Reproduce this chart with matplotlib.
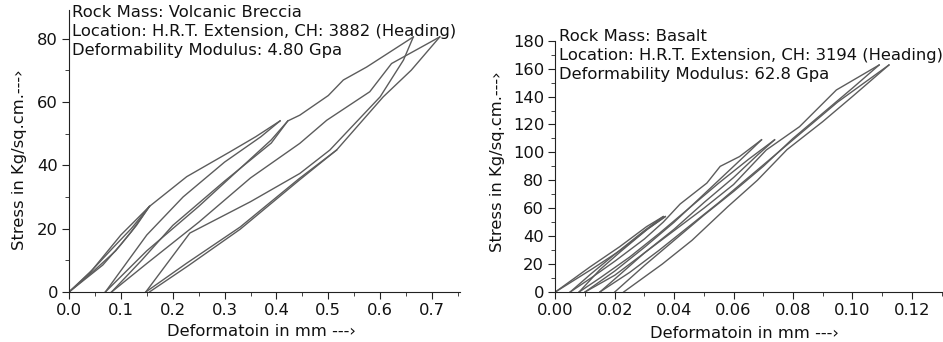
import matplotlib
matplotlib.use("Agg")
import matplotlib.pyplot as plt
from matplotlib.ticker import MultipleLocator

plt.rcParams['font.family'] = ['DejaVu Sans']

# ---- left chart: Volcanic Breccia (deformation in mm, stress in Kg/sq.cm.)
vb_load1_x = [0.0, 0.065, 0.10, 0.13, 0.155]
vb_load1_y = [0, 8.5, 15, 21, 27]
vb_unload1_x = [0.155, 0.10, 0.075, 0.04, 0.0]
vb_unload1_y = [27, 18, 13, 6, 0]
vb_load1b_x = [0.0, 0.05, 0.09, 0.12, 0.155]
vb_load1b_y = [0, 7, 13, 19, 27]
vb_load2_x = [0.0, 0.045, 0.085, 0.12, 0.155, 0.227, 0.31, 0.36, 0.407]
vb_load2_y = [0, 7, 14, 20, 27, 36.4, 44.2, 49, 54]
vb_unload2_x = [0.407, 0.37, 0.30, 0.22, 0.15, 0.07]
vb_unload2_y = [54, 49, 41, 30, 18, 0]
vb_load3_x = [0.07, 0.15, 0.25, 0.33, 0.39, 0.422, 0.445, 0.50, 0.529, 0.574, 0.664]
vb_load3_y = [0, 13, 27, 39, 48, 54, 55.8, 62, 66.9, 71, 80.5]
vb_unload2b_x = [0.422, 0.39, 0.30, 0.20, 0.14, 0.082]
vb_unload2b_y = [54, 47, 35, 21, 10, 0]
vb_load3b_x = [0.082, 0.15, 0.25, 0.35, 0.445, 0.497, 0.58, 0.622, 0.715]
vb_load3b_y = [0, 9, 22, 36, 46.9, 54.2, 63.2, 72.1, 80.5]
vb_unload3_x = [0.664, 0.645, 0.60, 0.503, 0.445, 0.35, 0.233, 0.148]
vb_unload3_y = [80.5, 73.2, 61.6, 44.8, 37.4, 28.5, 18.6, 0]
vb_unload3b_x = [0.715, 0.66, 0.606, 0.516, 0.444, 0.33, 0.227, 0.148]
vb_unload3b_y = [80.5, 70, 61.6, 44.8, 35.8, 20.5, 9.1, 0]
vb_load4_x = [0.155, 0.23, 0.33, 0.444, 0.516]
vb_load4_y = [0, 8.3, 19.8, 35.3, 44.8]

# ---- right chart: Basalt
ba_load1_x = [0.0, 0.0117, 0.0217, 0.0307, 0.0363]
ba_load1_y = [0, 18, 32.5, 46.8, 54]
ba_load1b_x = [0.0, 0.012, 0.022, 0.031, 0.037]
ba_load1b_y = [0, 16, 30, 45, 54]
ba_unload1_x = [0.0363, 0.030, 0.020, 0.012, 0.005]
ba_unload1_y = [54, 44, 27, 13, 0]
ba_unload1b_x = [0.037, 0.031, 0.022, 0.015, 0.008]
ba_unload1b_y = [54, 45, 29, 16, 0]
ba_load2_x = [0.005, 0.012, 0.020, 0.030, 0.0363, 0.042, 0.051, 0.0555, 0.062, 0.0694]
ba_load2_y = [0, 10, 22, 38, 50, 63, 78, 90, 97, 109]
ba_unload2_x = [0.0694, 0.065, 0.058, 0.050, 0.040, 0.030, 0.020, 0.010]
ba_unload2_y = [109, 100, 86, 70, 50, 32, 15, 0]
ba_load2b_x = [0.008, 0.015, 0.025, 0.035, 0.045, 0.055, 0.065, 0.0738]
ba_load2b_y = [0, 10, 25, 42, 60, 78, 95, 109]
ba_unload2b_x = [0.0738, 0.068, 0.060, 0.050, 0.040, 0.030, 0.022, 0.015]
ba_unload2b_y = [109, 98, 82, 64, 45, 28, 13, 0]
ba_load3_x = [0.010, 0.020, 0.030, 0.040, 0.050, 0.060, 0.071, 0.0822, 0.0946, 0.109]
ba_load3_y = [0, 12, 28, 44, 60, 77, 101.7, 118.4, 144.7, 162.6]
ba_unload3_x = [0.109, 0.100, 0.090, 0.080, 0.070, 0.060, 0.050, 0.040, 0.030, 0.020]
ba_unload3_y = [162.6, 146, 128, 110, 90, 72, 55, 37, 19, 0]
ba_load3b_x = [0.015, 0.025, 0.035, 0.045, 0.055, 0.065, 0.075, 0.085, 0.095, 0.1123]
ba_load3b_y = [0, 14, 30, 47, 64, 82, 100, 118, 136, 162.6]
ba_unload3b_x = [0.1123, 0.100, 0.090, 0.078, 0.068, 0.058, 0.046, 0.036, 0.023]
ba_unload3b_y = [162.6, 140, 122, 102, 80, 61, 37, 20, 0]

left_curves = [
    (vb_load1_x, vb_load1_y), (vb_unload1_x, vb_unload1_y), (vb_load1b_x, vb_load1b_y),
    (vb_load2_x, vb_load2_y), (vb_unload2_x, vb_unload2_y), (vb_load3_x, vb_load3_y),
    (vb_unload2b_x, vb_unload2b_y), (vb_load3b_x, vb_load3b_y),
    (vb_unload3_x, vb_unload3_y), (vb_unload3b_x, vb_unload3b_y), (vb_load4_x, vb_load4_y),
]
right_curves = [
    (ba_load1_x, ba_load1_y), (ba_load1b_x, ba_load1b_y),
    (ba_unload1_x, ba_unload1_y), (ba_unload1b_x, ba_unload1b_y),
    (ba_load2_x, ba_load2_y), (ba_unload2_x, ba_unload2_y),
    (ba_load2b_x, ba_load2b_y), (ba_unload2b_x, ba_unload2b_y),
    (ba_load3_x, ba_load3_y), (ba_unload3_x, ba_unload3_y),
    (ba_load3b_x, ba_load3b_y), (ba_unload3b_x, ba_unload3b_y),
]

left_text = ["Rock Mass: Volcanic Breccia",
             "Location: H.R.T. Extension, CH: 3882 (Heading)",
             "Deformability Modulus: 4.80 Gpa"]
right_text = ["Rock Mass: Basalt",
              "Location: H.R.T. Extension, CH: 3194 (Heading)",
              "Deformability Modulus: 62.8 Gpa"]

fig = plt.figure(figsize=(9.43, 3.42), dpi=100)
ax1 = fig.add_axes([0.0732, 0.1462, 0.4146, 0.8246])
ax2 = fig.add_axes([0.5889, 0.1462, 0.4111, 0.7348])

line_col = '#5c5c5c'
fs = 11.8

for ax, curves in ((ax1, left_curves), (ax2, right_curves)):
    for cx, cy in curves:
        ax.plot(cx, cy, color=line_col, linewidth=1.0)
    ax.spines['top'].set_visible(False)
    ax.spines['right'].set_visible(False)
    ax.spines['left'].set_color('#222222')
    ax.spines['bottom'].set_color('#222222')
    ax.tick_params(axis='both', which='major', labelsize=fs, length=5, color='#222222',
                   labelcolor='#111111', pad=3)
    ax.tick_params(axis='both', which='minor', length=3, color='#222222')
    ax.set_xlabel("Deformatoin in mm ---\u203a", fontsize=fs, color='#111111')
    ax.set_ylabel("Stress in Kg/sq.cm.---\u203a", fontsize=fs, color='#111111')

ax1.set_xlim(0, 0.754)
ax1.set_ylim(0, 89)
ax1.xaxis.set_major_locator(MultipleLocator(0.1))
ax1.xaxis.set_minor_locator(MultipleLocator(0.05))
ax1.yaxis.set_major_locator(MultipleLocator(20))
ax1.yaxis.set_minor_locator(MultipleLocator(10))
ax1.xaxis.set_major_formatter(lambda v, p: f"{v:.1f}")

ax2.set_xlim(0, 0.1305)
ax2.set_ylim(0, 180)
ax2.xaxis.set_major_locator(MultipleLocator(0.02))
ax2.xaxis.set_minor_locator(MultipleLocator(0.01))
ax2.yaxis.set_major_locator(MultipleLocator(20))
ax2.yaxis.set_minor_locator(MultipleLocator(10))
ax2.xaxis.set_major_formatter(lambda v, p: f"{v:.2f}")

ax1.yaxis.set_label_coords(-0.107, 0.47)
ax1.xaxis.set_label_coords(0.491, -0.115)
ax2.yaxis.set_label_coords(-0.129, 0.517)
ax2.xaxis.set_label_coords(0.487, -0.137)

for i, t in enumerate(left_text):
    fig.text(72 / 943, 1 - (5 + 19 * i) / 342, t, fontsize=fs, va='top', ha='left', color='#111111')
for i, t in enumerate(right_text):
    fig.text(559 / 943, 1 - (29 + 19 * i) / 342, t, fontsize=fs, va='top', ha='left', color='#111111')

fig.savefig("out.png", dpi=100)
